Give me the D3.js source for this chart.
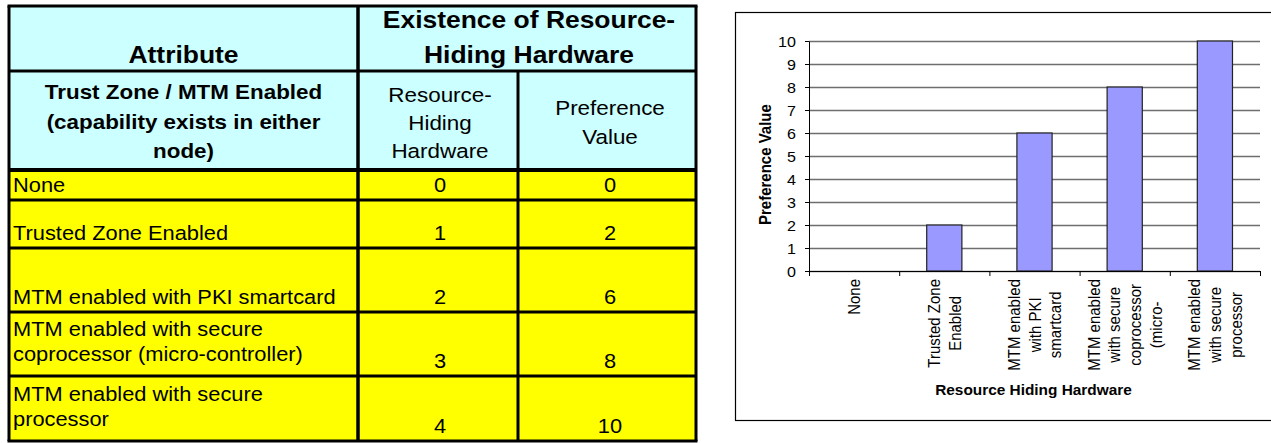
<!DOCTYPE html>
<html>
<head>
<meta charset="utf-8">
<script src="https://cdn.jsdelivr.net/npm/d3@7"></script>
<style>
  body { margin: 0; background: #fff; }
  text { font-family: "Liberation Sans", Arial, sans-serif; fill: #000; }
</style>
</head>
<body>
<svg id="page" width="1271" height="443"></svg>
<script>
// table + chart data
const categories = ["None", "Trusted Zone Enabled", "MTM enabled with PKI smartcard",
  "MTM enabled with secure coprocessor (micro-controller)", "MTM enabled with secure processor"];
const attributeLabels = [
  ["None"],
  ["Trusted Zone Enabled"],
  ["MTM enabled with PKI smartcard"],
  ["MTM enabled with secure", "coprocessor (micro-controller)"],
  ["MTM enabled with secure", "processor"]
];
const hardwareLevels = [0, 1, 2, 3, 4];
const preferenceValues = [0, 2, 6, 8, 10];
const chartLabels = [
  ["None"],
  ["Trusted Zone", "Enabled"],
  ["MTM enabled", "with PKI", "smartcard"],
  ["MTM enabled", "with secure", "coprocessor", "(micro-"],
  ["MTM enabled", "with secure", "processor"]
];
const headerAttribute = ["Attribute"];
const headerExistence = ["Existence of Resource-", "Hiding Hardware"];
const subAttribute = ["Trust Zone / MTM Enabled", "(capability exists in either", "node)"];
const subHardware = ["Resource-", "Hiding", "Hardware"];
const subPreference = ["Preference", "Value"];
const yTicks = d3.range(0, 11);

const svg = d3.select("#page");
const stretch = 1.15; // the picture is a bit wider than tall, so text gets widened

function putText(g, str, x, y, opts) {
  return g.append("text")
    .attr("transform", `translate(${x},${y}) scale(${opts.s || stretch},1)`)
    .attr("text-anchor", opts.anchor || "middle")
    .style("font-size", opts.size + "px")
    .style("font-weight", opts.bold ? "bold" : "normal")
    .text(str);
}

// ---------- table ----------
const cols = [9, 358, 518, 696];
const headTop = 6, headMid = 71, headBottom = 170;
const rowEdges = [170, 200, 248, 312, 376, 441];
const table = svg.append("g");

table.append("rect")
  .attr("x", cols[0]).attr("y", headTop)
  .attr("width", cols[3] - cols[0]).attr("height", headBottom - headTop)
  .attr("fill", "#ccffff");

table.selectAll("rect.row")
  .data(preferenceValues)
  .join("rect")
  .attr("class", "row")
  .attr("x", cols[0])
  .attr("y", (d, i) => rowEdges[i])
  .attr("width", cols[3] - cols[0])
  .attr("height", (d, i) => rowEdges[i + 1] - rowEdges[i])
  .attr("fill", "#ffff00");

// header text
const midAB = (cols[0] + cols[1]) / 2;
const midBC = (cols[1] + cols[3]) / 2 + 2;
putText(table, headerAttribute[0], midAB, 63, { size: 23, bold: true });
headerExistence.forEach((t, i) => putText(table, t, midBC, 28 + i * 35, { size: 23, bold: true }));
subAttribute.forEach((t, i) => putText(table, t, midAB, 99 + i * 29.5, { size: 20, bold: true, s: 1.12 }));
subHardware.forEach((t, i) => putText(table, t, (cols[1] + cols[2]) / 2 + 2, 101.5 + i * 28, { size: 19.5 }));
subPreference.forEach((t, i) => putText(table, t, (cols[2] + cols[3]) / 2 + 3, 115 + i * 28.5, { size: 19.5 }));

// body text
attributeLabels.forEach((lines, i) => {
  const bottom = rowEdges[i + 1];
  const last = lines.length > 1 ? bottom - 15 : bottom - 8.5;
  lines.forEach((t, j) => putText(table, t, 13, last - (lines.length - 1 - j) * 25,
    { size: 19.5, anchor: "start", s: 1.12 }));
  putText(table, hardwareLevels[i], (cols[1] + cols[2]) / 2 + 2, bottom - 8.5, { size: 19.5, s: 1.12 });
  putText(table, preferenceValues[i], (cols[2] + cols[3]) / 2 + 3, bottom - 8.5, { size: 19.5, s: 1.12 });
});

// borders
function rule(x1, y1, x2, y2, w) {
  table.append("line").attr("x1", x1).attr("y1", y1).attr("x2", x2).attr("y2", y2)
    .attr("stroke", "#000").attr("stroke-width", w);
}
rule(cols[0] - 1.5, headTop, cols[3] + 1.5, headTop, 3);
rule(cols[0], headMid, cols[3], headMid, 3);
rule(cols[0], headBottom, cols[3], headBottom, 4);
rowEdges.slice(1, -1).forEach(y => rule(cols[0], y, cols[3], y, 3));
rule(cols[0] - 1.5, rowEdges[5], cols[3] + 1.5, rowEdges[5], 3);
rule(cols[0], headTop, cols[0], rowEdges[5], 3);
rule(cols[1], headTop, cols[1], rowEdges[5], 3.5);
rule(cols[2], headMid, cols[2], rowEdges[5], 3);
rule(cols[3], headTop, cols[3], rowEdges[5], 3);

// ---------- chart ----------
const chart = svg.append("g");
const plot = { left: 809, right: 1260, top: 41, bottom: 271 };

chart.append("rect")
  .attr("x", 735.5).attr("y", 12.5)
  .attr("width", 540).attr("height", 408)
  .attr("fill", "#fff").attr("stroke", "#000").attr("stroke-width", 1.2);

const x = d3.scaleBand()
  .domain(categories)
  .range([plot.left, plot.right])
  .paddingInner(0.61)
  .paddingOuter(0.305);

const y = d3.scaleLinear().domain([0, 10]).range([plot.bottom, plot.top]);

// gridlines
chart.append("g")
  .attr("transform", `translate(${plot.left},0)`)
  .call(d3.axisLeft(y).tickValues(yTicks).tickSize(-(plot.right - plot.left)).tickFormat(""))
  .call(g => g.select(".domain").remove())
  .selectAll("line")
  .attr("stroke", "#6e6e6e")
  .attr("stroke-width", 1.3);

// bars
chart.selectAll("rect.bar")
  .data(preferenceValues)
  .join("rect")
  .attr("class", "bar")
  .attr("x", (d, i) => x(categories[i]))
  .attr("y", d => y(d))
  .attr("width", x.bandwidth())
  .attr("height", d => y(0) - y(d))
  .attr("fill", "#9999ff")
  .attr("stroke", "#222")
  .attr("stroke-width", 1.2);

// y axis
const yAxisG = chart.append("g")
  .attr("transform", `translate(${plot.left},0)`)
  .call(d3.axisLeft(y).tickValues(yTicks).tickSize(4).tickSizeOuter(0))
  .attr("font-size", null)
  .attr("font-family", null);
yAxisG.selectAll("text")
  .attr("x", -13 / stretch)
  .attr("dy", "0.36em")
  .attr("transform", `scale(${stretch},1)`)
  .style("font-size", "14px");

// x axis: ticks sit between categories
const xEdge = d3.scaleLinear().domain([0, categories.length]).range([plot.left, plot.right]);
chart.append("g")
  .attr("transform", `translate(0,${plot.bottom})`)
  .call(d3.axisBottom(xEdge).tickValues(d3.range(categories.length + 1))
    .tickSize(5).tickSizeOuter(0).tickFormat(""));

// rotated category labels
const lineGap = 20.7;
chartLabels.forEach((lines, i) => {
  const cx = x(categories[i]) + x.bandwidth() / 2;
  const texts = lines.map(t => chart.append("text")
    .attr("text-anchor", "middle")
    .attr("dy", "0.35em")
    .style("font-size", "15px")
    .text(t));
  const maxLen = d3.max(texts, t => t.node().getComputedTextLength());
  const cy = 279 + maxLen / 2;
  texts.forEach((t, j) => {
    const lx = cx + (j - (lines.length - 1) / 2) * lineGap;
    t.attr("transform", `translate(${lx},${cy}) scale(${stretch},1) rotate(-90)`);
  });
});

// axis titles
chart.append("text")
  .attr("transform", `translate(764.5,164.6) scale(${stretch},1) rotate(-90)`)
  .attr("text-anchor", "middle")
  .attr("dy", "0.35em")
  .style("font-size", "15px")
  .style("font-weight", "bold")
  .text("Preference Value");

putText(chart, "Resource Hiding Hardware", (plot.left + plot.right) / 2 - 1, 395,
  { size: 14, bold: true, s: 1.1 });
</script>
</body>
</html>
